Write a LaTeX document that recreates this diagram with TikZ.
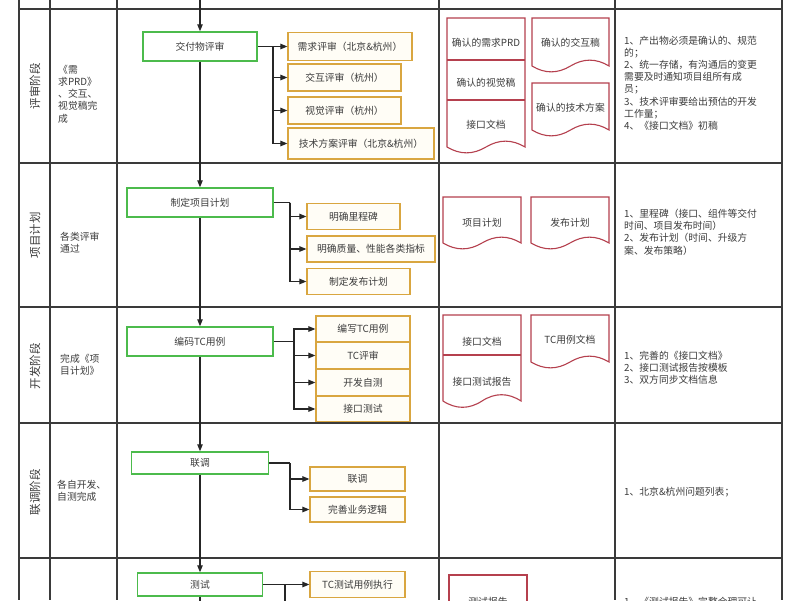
\documentclass[tikz,border=0pt]{standalone}
\usepackage{fontspec}
\setmainfont{Noto Sans CJK SC}
\usetikzlibrary{arrows.meta}
\definecolor{grn}{HTML}{4CBB4C}
\definecolor{org}{HTML}{D9A640}
\definecolor{orgfill}{HTML}{FFFDF6}
\definecolor{docc}{HTML}{B5404E}
\definecolor{gridc}{HTML}{3A3A3A}
\definecolor{txtc}{HTML}{3C3C3C}
\newcommand{\docshape}[5]{%
  \pgfmathsetmacro\dw{(#3-#1)/6}%
  \pgfmathsetmacro\dxm{(#1+#3)/2}%
  \pgfmathsetmacro\dup{#4-0.6*#5}%
  \pgfmathsetmacro\ddn{#4+0.6*#5}%
  \draw[docline] (#1,#2) -- (#3,#2) -- (#3,#4) .. controls (#3-\dw,\dup) and (\dxm+\dw,\dup) .. (\dxm,#4) .. controls (\dxm-\dw,\ddn) and (#1+\dw,\ddn) .. (#1,#4) -- cycle;%
}
\tikzset{
 grid/.style={draw=gridc, line width=1.3pt},
 txt/.style={font=\fontsize{9.8}{12.2}\selectfont, text=txtc, inner sep=0pt},
 greenbox/.style={draw=grn, line width=1.5pt, fill=white, inner sep=0pt, txt},
 orgbox/.style={draw=org, line width=1.2pt, fill=orgfill, inner sep=0pt, txt},
 arr/.style={draw=black!85, line width=1.1pt, -{Triangle[length=7pt,width=5.5pt]}},
 link/.style={draw=black!85, line width=1.1pt},
 docline/.style={draw=docc, line width=1.1pt, fill=white},
 lane/.style={font=\fontsize{11.5}{13}\selectfont, text=txtc, rotate=90, inner sep=0pt},
 note/.style={txt, align=left, anchor=west},
}
\begin{document}
\begin{tikzpicture}[x=1pt,y=-1pt]
\useasboundingbox (0,0) rectangle (800,600);
\clip (0,0) rectangle (800,600);
\fill[white] (0,0) rectangle (800,600);
% grid
\foreach \gx in {19,50,117,439,615,782} \draw[grid] (\gx,0) -- (\gx,600);
\foreach \gy in {9,163,307,423,558} \draw[grid] (19,\gy) -- (782,\gy);
% lane labels
\node[lane] (l1) at (35,86) {评审阶段};
\node[lane] (l2) at (35,235) {项目计划};
\node[lane] (l3) at (35,366) {开发阶段};
\node[lane] (l4) at (35,492) {联调阶段};
% conditions
\node[note] (c1) at (58,94) {《需\\求PRD》\\、交互、\\视觉稿完\\成};
\node[note] (c2) at (60,243) {各类评审\\通过};
\node[note] (c3) at (60,365) {完成《项\\目计划》};
\node[note] (c4) at (57,491) {各自开发、\\自测完成};
% main flow boxes
\node[greenbox, minimum width=114, minimum height=29] (g1) at (200,46.5) {交付物评审};
\node[greenbox, minimum width=146, minimum height=29] (g2) at (200,202.5) {制定项目计划};
\node[greenbox, minimum width=146, minimum height=29] (g3) at (200,341.5) {编码TC用例};
\node[greenbox, minimum width=137, minimum height=22] (g4) at (200,463) {联调};
\node[greenbox, minimum width=125, minimum height=23] (g5) at (200,584.5) {测试};
% sub tasks
\node[orgbox, minimum width=124, minimum height=28] (o11) at (350,46.5) {需求评审（北京\&杭州）};
\node[orgbox, minimum width=113, minimum height=27] (o12) at (344.5,77.5) {交互评审（杭州）};
\node[orgbox, minimum width=113, minimum height=27] (o13) at (344.5,110.5) {视觉评审（杭州）};
\node[orgbox, minimum width=146, minimum height=31] (o14) at (361,143.5) {技术方案评审（北京\&杭州）};
\node[orgbox, minimum width=93, minimum height=26] (o21) at (353.5,216.5) {明确里程碑};
\node[orgbox, minimum width=128, minimum height=26] (o22) at (371,249) {明确质量、性能各类指标};
\node[orgbox, minimum width=103, minimum height=26] (o23) at (358.5,281.5) {制定发布计划};
\node[orgbox, minimum width=94, minimum height=26] (o31) at (363,329) {编写TC用例};
\node[orgbox, minimum width=94, minimum height=26] (o32) at (363,355.5) {TC评审};
\node[orgbox, minimum width=94, minimum height=26] (o33) at (363,382.5) {开发自测};
\node[orgbox, minimum width=94, minimum height=25] (o34) at (363,409) {接口测试};
\node[orgbox, minimum width=95, minimum height=24] (o41) at (357.5,479) {联调};
\node[orgbox, minimum width=95, minimum height=25] (o42) at (357.5,509.5) {完善业务逻辑};
\node[orgbox, minimum width=95, minimum height=26] (o51) at (357.5,584.5) {TC测试用例执行};
% main vertical flow
\coordinate (top) at (200,0);
\coordinate (bot) at (200,610);
\draw[arr] (top) -- (g1.north);
\draw[arr] (g1.south) -- (g2.north);
\draw[arr] (g2.south) -- (g3.north);
\draw[arr] (g3.south) -- (g4.north);
\draw[arr] (g4.south) -- (g5.north);
\draw[link] (g5.south) -- (bot);
% branches
\coordinate (b1) at (273,46.5);
\draw[link] (g1.east) -- (b1);
\foreach \t in {o11,o12,o13,o14} \draw[arr] (b1) |- (\t.west);
\coordinate (b2) at (290,202.5);
\draw[link] (g2.east) -- (b2);
\foreach \t in {o21,o22,o23} \draw[arr] (b2) |- (\t.west);
\coordinate (b3) at (294,341.5);
\draw[link] (g3.east) -- (b3);
\foreach \t in {o31,o32,o33,o34} \draw[arr] (b3) |- (\t.west);
\coordinate (b4) at (290,463);
\draw[link] (g4.east) -- (b4);
\foreach \t in {o41,o42} \draw[arr] (b4) |- (\t.west);
\draw[arr] (g5.east) -- (o51.west);
\coordinate (b5) at (285,584.5);
\coordinate (b5e) at (285,610);
\draw[link] (b5) -- (b5e);
% documents row 1
\docshape{447}{18}{525}{147}{13}
\draw[docline] (447,60) -- (525,60);
\draw[docline] (447,100) -- (525,100);
\node[txt] (d11) at (486,43) {确认的需求PRD};
\node[txt] (d12) at (486,83) {确认的视觉稿};
\node[txt] (d13) at (486,125) {接口文档};
\docshape{532}{18}{609}{66}{13}
\node[txt] (d14) at (570.5,43) {确认的交互稿};
\docshape{532}{83}{609}{130}{13}
\node[txt] (d15) at (570.5,108) {确认的技术方案};
% documents row 2
\docshape{443}{197}{521}{243}{13}
\node[txt] (d21) at (482,223) {项目计划};
\docshape{531}{197}{609}{243}{13}
\node[txt] (d22) at (570,223) {发布计划};
% documents row 3
\docshape{443}{315}{521}{401}{14}
\draw[docline] (443,355) -- (521,355);
\node[txt] (d31) at (482,342) {接口文档};
\node[txt] (d32) at (482,382) {接口测试报告};
\docshape{531}{315}{609}{362}{13}
\node[txt] (d33) at (570,340) {TC用例文档};
% documents row 5
\draw[docline] (449,620) -- (449,575) -- (527,575) -- (527,620);
\node[txt] (d51) at (488,602) {测试报告};
% notes
\node[note] (n1) at (624,83) {1、产出物必须是确认的、规范\\的；\\2、统一存储，有沟通后的变更\\需要及时通知项目组所有成\\员；\\3、技术评审要给出预估的开发\\工作量；\\4、《接口文档》初稿};
\node[note] (n2) at (624,232) {1、里程碑（接口、组件等交付\\时间、项目发布时间）\\2、发布计划（时间、升级方\\案、发布策略）};
\node[note] (n3) at (624,368) {1、完善的《接口文档》\\2、接口测试报告按模板\\3、双方同步文档信息};
\node[note] (n4) at (624,492) {1、北京\&杭州问题列表；};
\node[note] (n5) at (624,602) {1、《测试报告》完整合理可让};
\end{tikzpicture}
\end{document}
